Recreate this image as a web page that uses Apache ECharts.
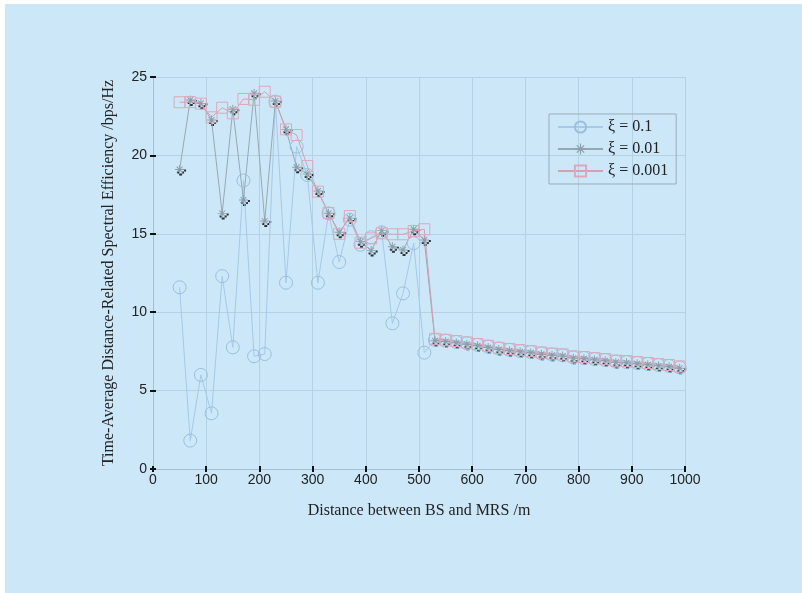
<!DOCTYPE html>
<html>
<head>
<meta charset="utf-8">
<script src="https://cdn.jsdelivr.net/npm/echarts@6/dist/echarts.min.js"></script>
<style>
  html, body { margin: 0; padding: 0; background: #ffffff; }
  #chart { position: absolute; left: 5px; top: 4px; width: 797px; height: 589px; }
</style>
</head>
<body>
<div id="chart"></div>
<script>
// distance between BS and MRS (m)
const distance = [50, 70, 90, 110, 130, 150, 170, 190, 210, 230, 250, 270, 290, 310, 330, 350,
  370, 390, 410, 430, 450, 470, 490, 510, 530, 550, 570, 590, 610, 630, 650, 670,
  690, 710, 730, 750, 770, 790, 810, 830, 850, 870, 890, 910, 930, 950, 970, 990]

const xi01 = [11.59, 1.81, 6.0, 3.55, 12.3, 7.76, 18.4, 7.19, 7.33, 23.43, 11.88, 20.56, 18.75, 11.88, 16.3, 13.2,
  15.9, 14.3, 14.78, 15.1, 9.29, 11.2, 14.4, 7.42, 8.23, 8.18, 8.1, 8.02, 7.92, 7.8, 7.68, 7.6,
  7.52, 7.46, 7.37, 7.3, 7.25, 7.12, 7.08, 7.01, 6.95, 6.85, 6.82, 6.76, 6.7, 6.63, 6.57, 6.48]

const xi001 = [19.1, 23.53, 23.32, 22.26, 16.3, 22.94, 17.16, 23.96, 15.82, 23.47, 21.66, 19.24, 18.81, 17.73, 16.31, 15.1,
  16.0, 14.5, 13.93, 15.2, 14.17, 13.97, 15.29, 14.6, 8.18, 8.13, 8.05, 7.96, 7.86, 7.75, 7.62, 7.54,
  7.47, 7.41, 7.32, 7.25, 7.2, 7.07, 7.03, 6.96, 6.9, 6.8, 6.77, 6.71, 6.65, 6.58, 6.52, 6.43]

const xi0001 = [23.39, 23.4, 23.3, 22.43, 23.04, 22.68, 23.6, 23.55, 24.06, 23.43, 21.66, 21.3, 19.32, 17.69, 16.33, 15.0,
  16.13, 14.43, 14.71, 15.03, 14.97, 14.97, 15.18, 15.29, 8.3, 8.24, 8.16, 8.07, 7.97, 7.86, 7.73, 7.65,
  7.58, 7.52, 7.43, 7.36, 7.31, 7.18, 7.14, 7.07, 7.01, 6.91, 6.88, 6.82, 6.76, 6.69, 6.63, 6.54]

const seriesNames = ['ξ = 0.1', 'ξ = 0.01', 'ξ = 0.001']

const pairs = ys => distance.map((d, i) => [d, ys[i]])

const asterisk = 'path://M-0.4,-4h0.8v8h-0.8z M-4,-0.4h8v0.8h-8z M-2.9,-2.3L-2.3,-2.9L2.9,2.3L2.3,2.9z M2.3,-2.9L2.9,-2.3L-2.3,2.9L-2.9,2.3z'
const blackMark = 'path://M0,2h2v2h-2z M5,2h2v2h-2z M2,4h3v2h-3z M7,0h2v2h-2z'

const serif = '"Liberation Serif", "DejaVu Serif", serif'
const sans = '"Liberation Sans", Arial, sans-serif'
const axisColor = '#a6bfce'
const gridColor = '#b5d2e4'

const chart = echarts.init(document.getElementById('chart'))
chart.setOption({
  animation: false,
  backgroundColor: '#cce8f8',
  grid: { left: 148, top: 73, right: 117, bottom: 124 },
  legend: {
    data: seriesNames,
    orient: 'vertical',
    left: 544,
    top: 110,
    padding: [5, 8, 5, 8],
    borderColor: '#9aabb8',
    borderWidth: 1,
    itemWidth: 45,
    itemHeight: 14,
    itemGap: 6,
    selectedMode: false,
    textStyle: { fontFamily: serif, fontSize: 16, color: '#222', lineHeight: 14 }
  },
  xAxis: [
    {
      type: 'value', min: 0, max: 1000, interval: 100,
      name: 'Distance between BS and MRS /m',
      nameLocation: 'middle', nameGap: 34,
      nameTextStyle: { fontFamily: serif, fontSize: 16, color: '#222' },
      axisLine: { lineStyle: { color: axisColor } },
      axisTick: { inside: true, length: 3, lineStyle: { color: '#111', width: 2 } },
      axisLabel: { fontFamily: sans, fontSize: 14, color: '#222', margin: 4, formatter: v => String(v) },
      splitLine: { lineStyle: { color: gridColor } }
    },
    {
      type: 'value', min: 0, max: 1000, interval: 100, position: 'top',
      axisLine: { lineStyle: { color: axisColor } },
      axisTick: { inside: true, length: 3, lineStyle: { color: '#111', width: 2 } },
      axisLabel: { show: false },
      splitLine: { show: false }
    }
  ],
  yAxis: [
    {
      type: 'value', min: 0, max: 25, interval: 5,
      name: 'Time-Average Distance-Related Spectral Efficiency /bps/Hz',
      nameLocation: 'middle', nameGap: 36,
      nameTextStyle: { fontFamily: serif, fontSize: 16, color: '#222' },
      axisLine: { show: true, lineStyle: { color: axisColor } },
      axisTick: { show: true, inside: true, length: 3, lineStyle: { color: '#111', width: 2 } },
      axisLabel: { fontFamily: sans, fontSize: 14, color: '#222', margin: 6 },
      splitLine: { lineStyle: { color: gridColor } }
    },
    {
      type: 'value', min: 0, max: 25, interval: 5, position: 'right',
      axisLine: { show: true, lineStyle: { color: axisColor } },
      axisTick: { show: true, inside: true, length: 3, lineStyle: { color: '#111', width: 2 } },
      axisLabel: { show: false },
      splitLine: { show: false }
    }
  ],
  series: [
    {
      name: seriesNames[0], type: 'line', data: pairs(xi01),
      symbol: 'circle', symbolSize: 13,
      itemStyle: { color: 'rgba(0,0,0,0)', borderColor: '#98bfe3', borderWidth: 1 },
      lineStyle: { color: '#a6c9e8', width: 1 },
      emphasis: { disabled: true }
    },
    {
      name: seriesNames[1], type: 'line', data: pairs(xi001),
      symbol: asterisk, symbolSize: 9,
      itemStyle: { color: '#8c9ca8' },
      lineStyle: { color: '#98a8b2', width: 1 },
      emphasis: { disabled: true }
    },
    {
      name: seriesNames[2], type: 'line', data: pairs(xi0001),
      symbol: 'rect', symbolSize: 11,
      itemStyle: { color: 'rgba(0,0,0,0)', borderColor: '#dba9b9', borderWidth: 1 },
      lineStyle: { color: '#d3a1b2', width: 1 },
      emphasis: { disabled: true }
    },
    {
      name: 'marks', type: 'scatter', data: pairs(xi001),
      symbol: blackMark, symbolSize: [9, 6], symbolOffset: [2, 3],
      itemStyle: { color: '#000' },
      emphasis: { disabled: true }
    }
  ]
})
</script>
</body>
</html>
